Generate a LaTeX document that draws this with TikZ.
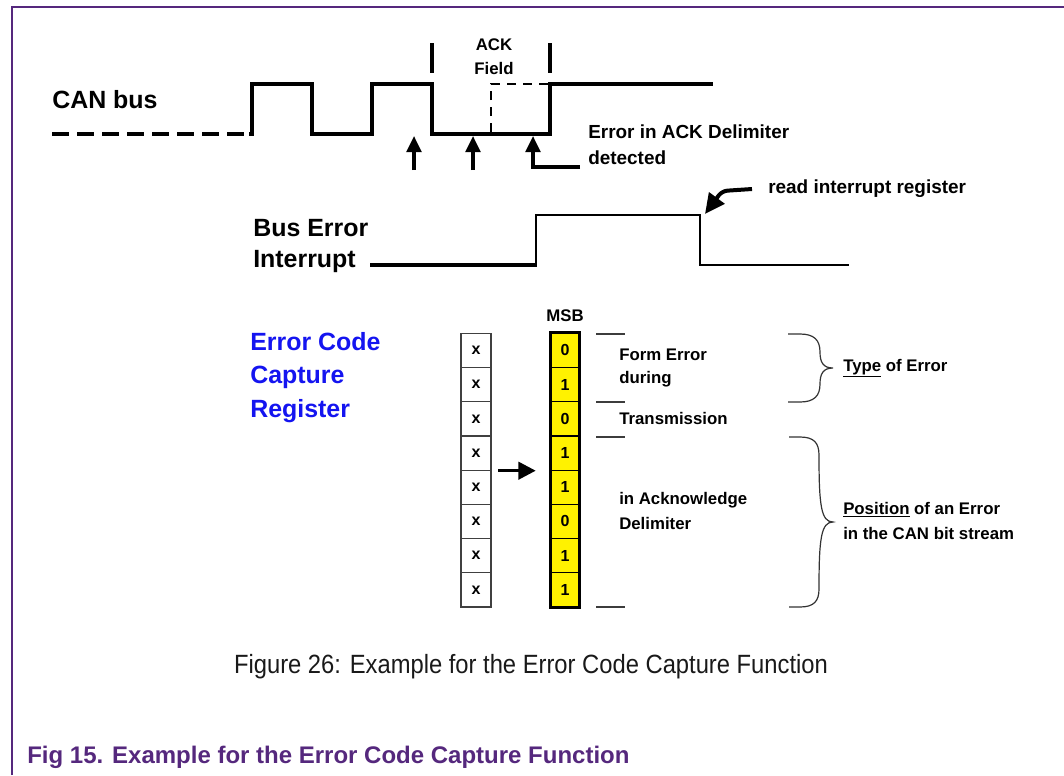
\documentclass[tikz,border=0pt]{standalone}
\usepackage{fontspec}
\setmainfont{Liberation Sans}
\usetikzlibrary{arrows.meta}
\definecolor{nxppurple}{RGB}{85,40,125}
\definecolor{regblue}{RGB}{20,20,240}
\definecolor{tickgray}{RGB}{60,60,60}
\begin{document}
\begin{tikzpicture}[x=0.75pt,y=-0.75pt,
  txt/.style={inner sep=0pt,anchor=west},
  bigtxt/.style={txt,font=\fontsize{18.7}{22}\selectfont\bfseries},
  midtxt/.style={txt,font=\fontsize{14.2}{17}\selectfont\bfseries},
  smalltxt/.style={txt,font=\fontsize{12.6}{15}\selectfont\bfseries},
  bluetxt/.style={bigtxt,text=regblue},
  wave/.style={line width=3pt,line join=miter},
  upar/.style={line width=2.4pt,-{Triangle[length=12pt,width=11pt]}},
  xcell/.style={draw=black!75,line width=0.9pt,fill=white,minimum width=22.5pt,minimum height=25.65pt,inner sep=0pt,font=\fontsize{12}{14}\selectfont\bfseries},
  ycell/.style={draw=black,line width=0.9pt,fill=yellow,minimum width=21pt,minimum height=25.65pt,inner sep=0pt,font=\fontsize{12}{14}\selectfont\bfseries},
  tick/.style={draw=tickgray,line width=0.9pt},
  brace/.style={draw=black!80,line width=0.9pt}
]
\useasboundingbox (0,0) rectangle (1064,775);
% frame
\draw[nxppurple,line width=1pt] (12,775) -- (12,7) -- (1064,7);

% CAN bus
\node[bigtxt] (can) at (52,100) {CAN bus};
\draw[wave,dash pattern=on 12.75pt off 6pt] (52,134) -- (250,134);
\draw[wave] (249,134) -- (252,134) -- (252,84) -- (312,84) -- (312,134) -- (372,134) -- (372,84) -- (432,84) -- (432,134) -- (550,134) -- (550,84) -- (713,84);
\draw[line width=1.5pt,dash pattern=on 7pt off 5pt] (491,132) -- (491,84) -- (548,84);
\draw[line width=2.4pt] (432,43) -- (432,73);
\draw[line width=2.4pt] (550,43) -- (550,73);
\node[smalltxt,anchor=center] (ack) at (494,45) {ACK};
\node[smalltxt,anchor=center] (field) at (494,68) {Field};

% arrows to CAN bus
\coordinate (a1) at (414,170);
\coordinate (a2) at (473,170);
\coordinate (a3) at (580,167);
\draw[upar] (a1) -- (414,136);
\draw[upar] (a2) -- (473,136);
\draw[upar] (a3) -- (533,167) -- (533,136);
\node[midtxt] (err1) at (588,132) {Error in ACK Delimiter};
\node[midtxt] (err2) at (588,158) {detected};

% Bus error interrupt
\node[bigtxt] (be1) at (253,228) {Bus Error};
\node[bigtxt] (be2) at (253,262) {Interrupt};
\draw[line width=3pt] (370,265) -- (537,265);
\draw[line width=2pt,line join=miter] (536,266) -- (536,215) -- (700,215) -- (700,265) -- (849,265);
\node[midtxt] (rir) at (768,189) {read interrupt register};
\draw[line width=3pt,rounded corners=4pt,-{Triangle[length=15pt,width=14pt]}] ([xshift=-12pt]rir.west) -- (722,191) -- (705,214);

% Error code capture register
\node[bluetxt] (ecc1) at (250,342) {Error Code};
\node[bluetxt] (ecc2) at (250,377) {Capture};
\node[bluetxt] (ecc3) at (250,411) {Register};

\foreach \i/\v in {1/0,2/1,3/0,4/1,5/1,6/0,7/1,8/1}{
  \node[xcell] (x\i) at (476,{333.3+34.2*(\i-0.5)}) {x};
  \node[ycell] (b\i) at (565,{333.3+34.2*(\i-0.5)}) {\v};
}
\draw[line width=2pt] (b1.north west) rectangle (b8.south east);
\node[smalltxt,anchor=center] (msb) at (565,316) {MSB};
\draw[line width=2.4pt,-{Triangle[length=13pt,width=13pt]}] ([xshift=5pt]x4.south east) -- ([xshift=-11pt]b4.south west);

% ticks
\draw[tick] (596,334) -- (625,334);
\draw[tick] (596,402) -- (625,402);
\draw[tick] (596,437) -- (625,437);
\draw[tick] (596,607) -- (625,607);

\node[smalltxt] (t1) at (619,355) {Form Error};
\node[smalltxt] (t2) at (619,379) {during};
\node[smalltxt] (t3) at (619,418) {Transmission};
\node[smalltxt] (t4) at (619,500) {in Acknowledge};
\node[smalltxt] (t5) at (619,523) {Delimiter};

% braces
\draw[brace] (788,334) -- (800,334) .. controls (814,334) and (820,340) .. (820,352)
  .. controls (820,362) and (823,368) .. (833,368)
  .. controls (823,368) and (820,374) .. (820,384)
  .. controls (820,396) and (814,402) .. (800,402) -- (788,402);
\draw[brace] (789,437) -- (800,437) .. controls (814,437) and (819,443) .. (819,455)
  .. controls (819,505) and (821,522) .. (833,522)
  .. controls (821,522) and (819,539) .. (819,589)
  .. controls (819,601) and (814,607) .. (800,607) -- (789,607);

\node[smalltxt] (type) at (843,368) {\underline{Type} of Error};
\node[smalltxt] (pos1) at (843,510) {\underline{Position} of an Error};
\node[smalltxt] (pos2) at (843,533) {in the CAN bit stream};

% captions
\node[inner sep=0pt,text=black!90,font=\fontsize{19.8}{23}\selectfont] (cap) at (531,667) {\scalebox{0.9}[1]{Figure 26: Example for the Error Code Capture Function}};
\node[txt,text=nxppurple,font=\fontsize{18}{22}\selectfont\bfseries] (fig) at (27,757) {Fig 15. Example for the Error Code Capture Function};
\end{tikzpicture}
\end{document}
